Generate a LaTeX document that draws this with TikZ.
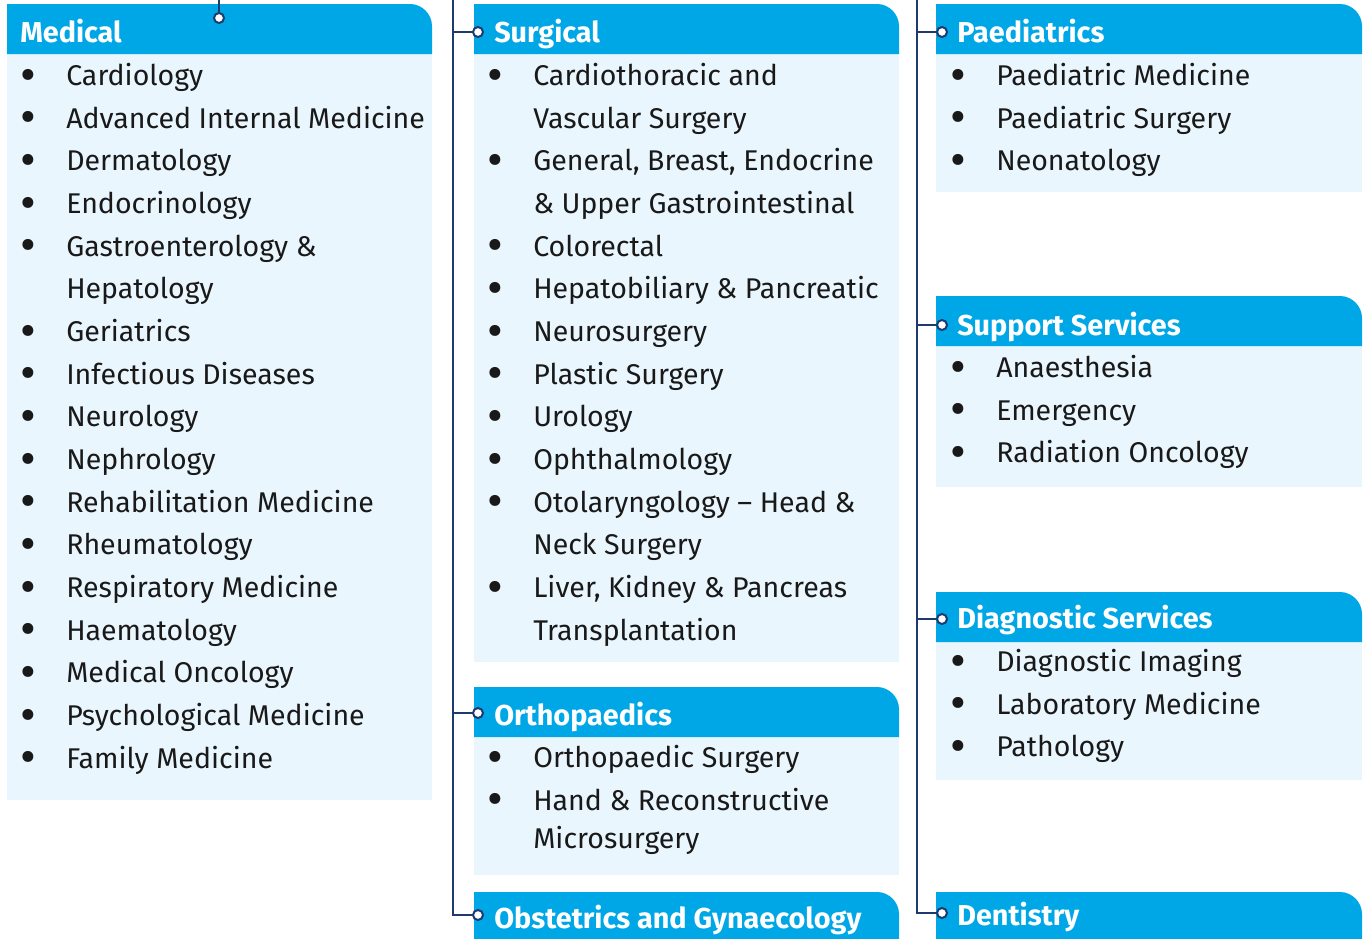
\documentclass[tikz,border=0pt]{standalone}
\usepackage{fontspec}
\setmainfont{Fira Sans}
\definecolor{unit_blue}{RGB}{0, 167, 231}
\definecolor{unit_pale}{RGB}{234, 246, 253}
\definecolor{unit_navy}{RGB}{31, 58, 110}
\definecolor{unit_ink}{RGB}{25, 25, 25}
\usepackage{tikz}
\usetikzlibrary{positioning, calc}
\newcommand{\bul}{\makebox[34.5pt][l]{\smash{\raisebox{-0.2em}{\scalebox{1.7}{\textbullet}}}}}
\newcommand{\cont}{\hspace*{34.5pt}}
% bandeau bleu, coin haut droit arrondi : x1, y1, x2
\newcommand{\headbar}[3]{%
  \fill[unit_blue] (#1,#2+50) -- (#1,#2) -- (#3-22,#2)
    .. controls (#3-10,#2) and (#3,#2+10) .. (#3,#2+22) -- (#3,#2+50) -- cycle;}

\begin{document}
\begin{tikzpicture}[x=0.75pt, y=-0.75pt,
    head/.style={anchor=base west, inner sep=0pt, text=white,
      font=\fontsize{21.6}{25}\bfseries\selectfont},
    items/.style={anchor=north west, inner sep=0pt, align=left, text=unit_ink,
      font=\fontsize{21.4}{32}\selectfont},
    dot/.style={circle, draw=unit_navy, fill=white, line width=1.5pt,
      inner sep=0pt, minimum size=7.5pt},
    link/.style={draw=unit_navy, line width=1.5pt}]
  \clip (0,0) rectangle (1365,939);
  % Fonds pâles
  \fill[unit_pale] (7,54) rectangle (432,800);
  \fill[unit_pale] (474,54) rectangle (899,662);
  \fill[unit_pale] (474,737) rectangle (899,875);
  \fill[unit_pale] (936,54) rectangle (1362,192);
  \fill[unit_pale] (936,346) rectangle (1362,487);
  \fill[unit_pale] (936,642) rectangle (1362,780);
  % Bandeaux
  \headbar{7}{4}{432}
  \headbar{474}{4}{899}
  \headbar{474}{687}{899}
  \headbar{474}{892}{899}
  \headbar{936}{4}{1362}
  \headbar{936}{296}{1362}
  \headbar{936}{592}{1362}
  \headbar{936}{892}{1362}
  % Titres
  \node[head] (med) at (20,42) {Medical};
  \node[head] (surg) at (494,42) {Surgical};
  \node[head] (ortho) at (494,725) {Orthopaedics};
  \node[head] (obs) at (494,928) {Obstetrics and Gynaecology};
  \node[head] (paed) at (957,42) {Paediatrics};
  \node[head] (supp) at (957,335) {Support Services};
  \node[head] (diag) at (957,628) {Diagnostic Services};
  \node[head] (dent) at (957,925) {Dentistry};
  % Listes
  \node[items] (medList) at (20,63) {\bul Cardiology\\ \bul Advanced Internal Medicine\\
    \bul Dermatology\\ \bul Endocrinology\\ \bul Gastroenterology \&\\ \cont Hepatology\\
    \bul Geriatrics\\ \bul Infectious Diseases\\ \bul Neurology\\ \bul Nephrology\\
    \bul Rehabilitation Medicine\\ \bul Rheumatology\\ \bul Respiratory Medicine\\
    \bul Haematology\\ \bul Medical Oncology\\ \bul Psychological Medicine\\
    \bul Family Medicine};
  \node[items] (surgList) at (487,63) {\bul Cardiothoracic and\\ \cont Vascular Surgery\\
    \bul General, Breast, Endocrine\\ \cont \& Upper Gastrointestinal\\ \bul Colorectal\\
    \bul Hepatobiliary \& Pancreatic\\ \bul Neurosurgery\\ \bul Plastic Surgery\\
    \bul Urology\\ \bul Ophthalmology\\ \bul Otolaryngology – Head \&\\
    \cont Neck Surgery\\ \bul Liver, Kidney \& Pancreas\\ \cont Transplantation};
  \node[items] (orthoList) at (487,745) {\bul Orthopaedic Surgery\\
    \bul Hand \& Reconstructive\\[-3pt] \cont Microsurgery};
  \node[items] (paedList) at (950,63) {\bul Paediatric Medicine\\
    \bul Paediatric Surgery\\ \bul Neonatology};
  \node[items] (suppList) at (950,355) {\bul Anaesthesia\\ \bul Emergency\\
    \bul Radiation Oncology};
  \node[items] (diagList) at (950,649) {\bul Diagnostic Imaging\\
    \bul Laboratory Medicine\\ \bul Pathology};
  % Connecteurs
  \coordinate (medTop) at (219,0);
  \coordinate (spineA) at (453,0);
  \coordinate (spineB) at (917,0);
  \node[dot] (medDot) at (219,18) {};
  \node[dot] (surgDot) at (478,32) {};
  \node[dot] (orthoDot) at (478,713) {};
  \node[dot] (obsDot) at (478,915) {};
  \node[dot] (paedDot) at (942,32) {};
  \node[dot] (suppDot) at (942,325) {};
  \node[dot] (diagDot) at (942,619) {};
  \node[dot] (dentDot) at (942,913) {};
  \draw[link] (medTop) -- (medDot);
  \draw[link] (spineA) |- (obsDot);
  \draw[link] (spineA |- surgDot) -- (surgDot);
  \draw[link] (spineA |- orthoDot) -- (orthoDot);
  \draw[link] (spineB) |- (dentDot);
  \draw[link] (spineB |- paedDot) -- (paedDot);
  \draw[link] (spineB |- suppDot) -- (suppDot);
  \draw[link] (spineB |- diagDot) -- (diagDot);
\end{tikzpicture}
\end{document}
